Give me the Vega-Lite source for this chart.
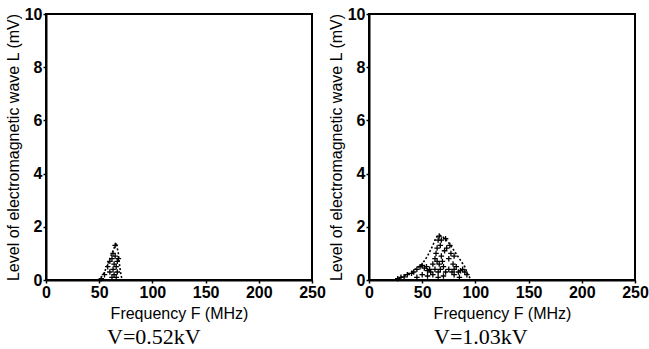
{
  "$schema": "https://vega.github.io/schema/vega-lite/v6.json",
  "padding": {"left": 4, "top": 5, "right": 0, "bottom": 2},
  "background": "white",
  "config": {
    "concat": {"spacing": 0},
    "view": {"stroke": "black", "strokeWidth": 2},
    "axis": {
      "grid": false,
      "domainColor": "black",
      "domainWidth": 2,
      "tickColor": "black",
      "tickSize": 3,
      "tickWidth": 1.5,
      "labelColor": "black",
      "labelFont": "Liberation Sans",
      "labelFontSize": 16,
      "labelFontWeight": "bold",
      "labelFlush": false,
      "titleColor": "black",
      "titleFont": "Liberation Sans",
      "titleFontWeight": "normal"
    },
    "title": {"font": "Liberation Serif", "fontSize": 22, "fontWeight": "normal", "color": "black"}
  },
  "datasets": {
    "env": [
      {"panel": "a", "f": 0, "L": 0}, {"panel": "a", "f": 50, "L": 0}, {"panel": "a", "f": 52, "L": 0.1},
      {"panel": "a", "f": 55, "L": 0.3}, {"panel": "a", "f": 58, "L": 0.6}, {"panel": "a", "f": 61, "L": 0.9},
      {"panel": "a", "f": 64, "L": 1.2}, {"panel": "a", "f": 66, "L": 1.4}, {"panel": "a", "f": 68, "L": 1.0},
      {"panel": "a", "f": 69, "L": 0.6}, {"panel": "a", "f": 70, "L": 0.3}, {"panel": "a", "f": 71, "L": 0.1},
      {"panel": "a", "f": 73, "L": 0}, {"panel": "a", "f": 250, "L": 0},
      {"panel": "b", "f": 0, "L": 0}, {"panel": "b", "f": 25, "L": 0}, {"panel": "b", "f": 30, "L": 0.1},
      {"panel": "b", "f": 35, "L": 0.2}, {"panel": "b", "f": 40, "L": 0.3}, {"panel": "b", "f": 45, "L": 0.45},
      {"panel": "b", "f": 50, "L": 0.6}, {"panel": "b", "f": 55, "L": 0.9}, {"panel": "b", "f": 60, "L": 1.3},
      {"panel": "b", "f": 63, "L": 1.6}, {"panel": "b", "f": 66, "L": 1.7}, {"panel": "b", "f": 70, "L": 1.6},
      {"panel": "b", "f": 75, "L": 1.4}, {"panel": "b", "f": 80, "L": 1.1}, {"panel": "b", "f": 85, "L": 0.8},
      {"panel": "b", "f": 90, "L": 0.5}, {"panel": "b", "f": 93, "L": 0.2}, {"panel": "b", "f": 96, "L": 0},
      {"panel": "b", "f": 250, "L": 0}
    ],
    "pts": [
      {"panel": "a", "f": 52, "L": 0.05}, {"panel": "a", "f": 55, "L": 0.2}, {"panel": "a", "f": 58, "L": 0.5},
      {"panel": "a", "f": 60, "L": 0.7}, {"panel": "a", "f": 62, "L": 0.8}, {"panel": "a", "f": 63, "L": 0.4},
      {"panel": "a", "f": 64, "L": 0.6}, {"panel": "a", "f": 64, "L": 0.2}, {"panel": "a", "f": 65, "L": 1.3},
      {"panel": "a", "f": 65, "L": 0.9}, {"panel": "a", "f": 66, "L": 0.5}, {"panel": "a", "f": 66, "L": 0.1},
      {"panel": "a", "f": 67, "L": 0.7}, {"panel": "a", "f": 62, "L": 0.1}, {"panel": "a", "f": 60, "L": 0.3},
      {"panel": "a", "f": 63, "L": 1.0}, {"panel": "a", "f": 67, "L": 0.3}, {"panel": "a", "f": 68, "L": 0.8},
      {"panel": "b", "f": 27, "L": 0.05}, {"panel": "b", "f": 30, "L": 0.1}, {"panel": "b", "f": 33, "L": 0.12},
      {"panel": "b", "f": 36, "L": 0.2}, {"panel": "b", "f": 40, "L": 0.25}, {"panel": "b", "f": 42, "L": 0.3},
      {"panel": "b", "f": 45, "L": 0.4}, {"panel": "b", "f": 48, "L": 0.5}, {"panel": "b", "f": 50, "L": 0.55},
      {"panel": "b", "f": 52, "L": 0.45}, {"panel": "b", "f": 54, "L": 0.5}, {"panel": "b", "f": 55, "L": 0.35},
      {"panel": "b", "f": 57, "L": 0.4}, {"panel": "b", "f": 58, "L": 0.3}, {"panel": "b", "f": 60, "L": 0.6},
      {"panel": "b", "f": 62, "L": 0.8}, {"panel": "b", "f": 63, "L": 1.0}, {"panel": "b", "f": 64, "L": 1.2},
      {"panel": "b", "f": 65, "L": 1.5}, {"panel": "b", "f": 66, "L": 1.65}, {"panel": "b", "f": 67, "L": 1.3},
      {"panel": "b", "f": 68, "L": 0.9}, {"panel": "b", "f": 69, "L": 0.7}, {"panel": "b", "f": 70, "L": 0.5},
      {"panel": "b", "f": 71, "L": 1.1}, {"panel": "b", "f": 73, "L": 1.2}, {"panel": "b", "f": 75, "L": 0.8},
      {"panel": "b", "f": 77, "L": 1.0}, {"panel": "b", "f": 79, "L": 0.6}, {"panel": "b", "f": 80, "L": 0.4},
      {"panel": "b", "f": 82, "L": 0.5}, {"panel": "b", "f": 84, "L": 0.3}, {"panel": "b", "f": 86, "L": 0.35},
      {"panel": "b", "f": 88, "L": 0.4}, {"panel": "b", "f": 90, "L": 0.3}, {"panel": "b", "f": 92, "L": 0.2},
      {"panel": "b", "f": 65, "L": 0.3}, {"panel": "b", "f": 67, "L": 0.4}, {"panel": "b", "f": 72, "L": 0.3},
      {"panel": "b", "f": 75, "L": 0.4}, {"panel": "b", "f": 78, "L": 0.3}, {"panel": "b", "f": 45, "L": 0.1},
      {"panel": "b", "f": 50, "L": 0.2}, {"panel": "b", "f": 55, "L": 0.15}, {"panel": "b", "f": 60, "L": 0.2},
      {"panel": "b", "f": 65, "L": 0.1}, {"panel": "b", "f": 70, "L": 0.15}, {"panel": "b", "f": 80, "L": 0.2},
      {"panel": "b", "f": 85, "L": 0.1}, {"panel": "b", "f": 62, "L": 0.4}, {"panel": "b", "f": 66, "L": 0.6},
      {"panel": "b", "f": 64, "L": 0.7}, {"panel": "b", "f": 68, "L": 1.5}, {"panel": "b", "f": 72, "L": 1.55},
      {"panel": "b", "f": 76, "L": 1.3}, {"panel": "b", "f": 80, "L": 0.9}
    ]
  },
  "hconcat": [
    {
      "width": 266,
      "height": 266,
      "title": {"text": "V=0.52kV", "orient": "bottom", "anchor": "start", "frame": "group", "dx": 61, "offset": 6},
      "encoding": {
        "x": {"field": "f", "type": "quantitative", "scale": {"domain": [0, 250]},
              "axis": {"values": [0, 50, 100, 150, 200, 250], "title": "Frequency F (MHz)", "titleFontSize": 16, "labelPadding": 1, "titlePadding": 5}},
        "y": {"field": "L", "type": "quantitative", "scale": {"domain": [0, 10]},
              "axis": {"values": [0, 2, 4, 6, 8, 10], "title": "Level of electromagnetic wave  L (mV)", "titleFontSize": 16, "labelPadding": 1, "titlePadding": 3}}
      },
      "layer": [
        {"data": {"name": "env"}, "transform": [{"filter": "datum.panel == 'a'"}],
         "mark": {"type": "line", "color": "black", "strokeWidth": 1.6, "strokeDash": [2, 2]}},
        {"data": {"name": "pts"}, "transform": [{"filter": "datum.panel == 'a'"}],
         "mark": {"type": "point", "shape": "M-1,0L1,0M0,-1L0,1", "filled": false, "color": "black", "strokeWidth": 1.3, "size": 30, "opacity": 1}}
      ]
    },
    {
      "width": 266,
      "height": 266,
      "title": {"text": "V=1.03kV", "orient": "bottom", "anchor": "start", "frame": "group", "dx": 65, "offset": 6},
      "encoding": {
        "x": {"field": "f", "type": "quantitative", "scale": {"domain": [0, 250]},
              "axis": {"values": [0, 50, 100, 150, 200, 250], "title": "Frequency F (MHz)", "titleFontSize": 16, "labelPadding": 1, "titlePadding": 5}},
        "y": {"field": "L", "type": "quantitative", "scale": {"domain": [0, 10]},
              "axis": {"values": [0, 2, 4, 6, 8, 10], "title": "Level of electromagnetic wave  L (mV)", "titleFontSize": 16, "labelPadding": 1, "titlePadding": 3}}
      },
      "layer": [
        {"data": {"name": "env"}, "transform": [{"filter": "datum.panel == 'b'"}],
         "mark": {"type": "line", "color": "black", "strokeWidth": 1.6, "strokeDash": [2, 2]}},
        {"data": {"name": "pts"}, "transform": [{"filter": "datum.panel == 'b'"}],
         "mark": {"type": "point", "shape": "M-1,0L1,0M0,-1L0,1", "filled": false, "color": "black", "strokeWidth": 1.3, "size": 30, "opacity": 1}}
      ]
    }
  ]
}
